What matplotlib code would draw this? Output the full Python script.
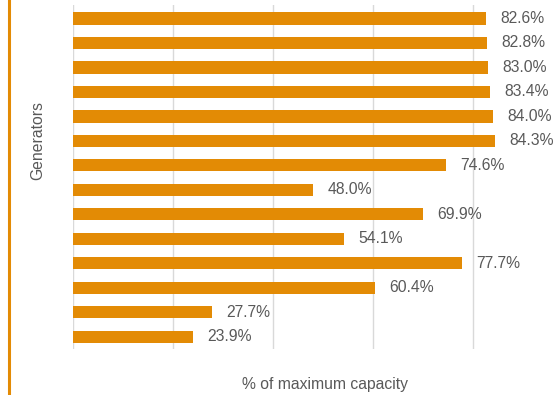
import matplotlib.pyplot as plt
from matplotlib.lines import Line2D

plt.rcParams['font.family'] = ['Liberation Sans', 'DejaVu Sans']

# capacity factor per generator, top to bottom
values = [82.6, 82.8, 83.0, 83.4, 84.0, 84.3, 74.6, 48.0, 69.9, 54.1, 77.7, 60.4, 27.7, 23.9]
positions = list(range(len(values)))

orange = '#E38B05'
grey = '#595959'

fig = plt.figure(figsize=(5.58, 3.95), dpi=100)
ax = fig.add_axes([73 / 558, 1 - 349 / 395, 470 / 558, 344 / 395])

ax.barh(positions, values, height=0.5, color=orange, zorder=2)
ax.set_ylim(len(values) - 0.5, -0.55)
ax.set_xlim(0, 94)
ax.set_xticks([0, 20, 40, 60, 80])
ax.grid(axis='x', color='#D9D9D9', linewidth=1, zorder=0)
ax.tick_params(axis='both', which='both', left=False, bottom=False,
               labelleft=False, labelbottom=False)
for s in ax.spines.values():
    s.set_visible(False)

for p, v in zip(positions, values):
    ax.annotate(f'{v:.1f}%', (v, p), xytext=(10.5, 0), textcoords='offset points',
                va='center', ha='left', fontsize=11.3, color=grey)

fig.text(38 / 558, 1 - 141 / 395, 'Generators', rotation=90, ha='center', va='center',
         fontsize=11.3, color=grey)
fig.text(325 / 558, 1 - 384 / 395, '% of maximum capacity', ha='center', va='center',
         fontsize=11.3, color=grey)

# orange bar down the left edge
fig.add_artist(Line2D([8.5 / 558, 8.5 / 558], [0, 1], color=orange, linewidth=2.2,
                      transform=fig.transFigure))

fig.savefig('out.png', dpi=100)
